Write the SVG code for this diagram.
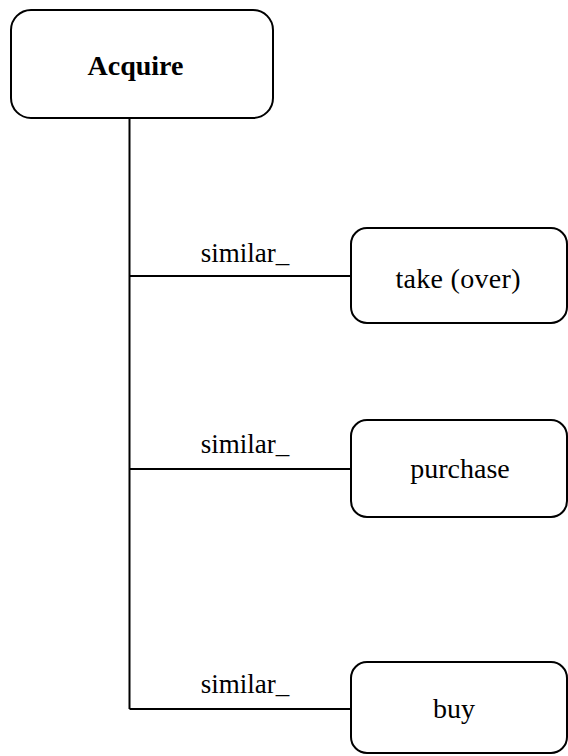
<svg xmlns="http://www.w3.org/2000/svg" width="568" height="756" viewBox="0 0 568 756">
  <style>
    .box { fill: #ffffff; stroke: #000000; stroke-width: 2; }
    .edge { fill: none; stroke: #000000; stroke-width: 2; }
    .lbl { font-family: "Liberation Serif", "Times New Roman", serif; font-size: 27px; fill: #000000; }
    .node { font-size: 28px; }
    .title { font-weight: bold; }
  </style>
  <rect width="568" height="756" fill="#ffffff"/>

  <!-- connectors: trunk from Acquire with three branches -->
  <g id="connectors">
    <path class="edge" d="M129.5 118 V709"/>
    <path class="edge" d="M129.5 276 H351"/>
    <path class="edge" d="M129.5 469 H351"/>
    <path class="edge" d="M129.5 709 H351"/>
    <text class="lbl" x="245" y="262" text-anchor="middle">similar_</text>
    <text class="lbl" x="245" y="453" text-anchor="middle">similar_</text>
    <text class="lbl" x="245" y="693" text-anchor="middle">similar_</text>
  </g>

  <g id="acquire">
    <rect class="box" x="11" y="10" width="262" height="108" rx="20" ry="20"/>
    <text class="lbl node title" x="135.5" y="75" text-anchor="middle">Acquire</text>
  </g>

  <g id="take-over">
    <rect class="box" x="351" y="228" width="216" height="95" rx="16" ry="16"/>
    <text class="lbl node" x="458" y="288" text-anchor="middle" textLength="125">take (over)</text>
  </g>

  <g id="purchase">
    <rect class="box" x="351" y="420" width="216" height="97" rx="16" ry="16"/>
    <text class="lbl node" x="460" y="478" text-anchor="middle">purchase</text>
  </g>

  <g id="buy">
    <rect class="box" x="351" y="662" width="216" height="91" rx="16" ry="16"/>
    <text class="lbl node" x="454" y="718" text-anchor="middle">buy</text>
  </g>
</svg>
